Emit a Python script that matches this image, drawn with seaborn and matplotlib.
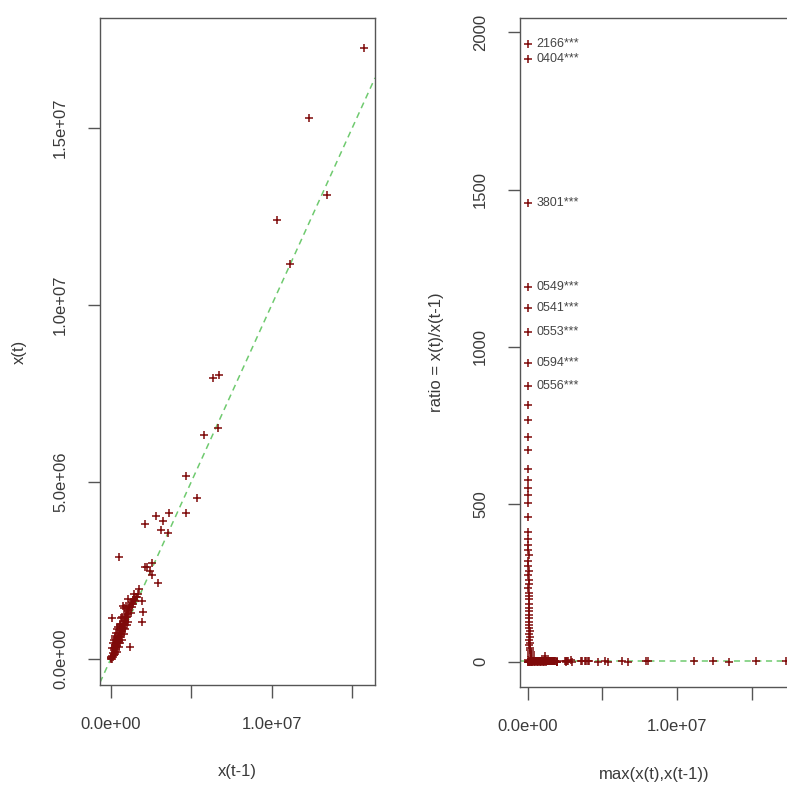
import numpy as np
import pandas as pd
import matplotlib
matplotlib.use("Agg")
import matplotlib.pyplot as plt
import seaborn as sns

# ---------------- data (values in millions) ----------------
left_x_m = [15.74, 12.33, 13.45, 10.31, 11.13, 6.35, 6.70, 6.68, 5.79, 4.68, 5.38, 4.68,
            2.81, 3.62, 3.27, 2.13, 3.12, 3.56, 0.50, 2.24, 2.55, 2.13, 2.43, 2.55, 2.96,
            1.78, 1.40, 1.08, 1.93, 0.76, 1.99, 1.93, 0.06, 1.20,
            0.05, 0.08, 0.12, 0.15, 0.18, 0.20, 0.22, 0.25, 0.28, 0.30, 0.32, 0.35, 0.38,
            0.40, 0.42, 0.45, 0.48, 0.50, 0.52, 0.55, 0.58, 0.60, 0.62, 0.65, 0.68, 0.70,
            0.72, 0.75, 0.78, 0.80, 0.82, 0.85, 0.88, 0.90, 0.92, 0.95, 0.98, 1.00, 1.02,
            1.05, 1.08, 1.10, 1.15, 1.20, 1.25, 1.30, 1.35, 1.40, 1.45, 1.50, 1.55, 0.10,
            0.15, 0.25, 0.35, 0.45, 0.55, 0.65, 0.20, 0.30, 0.40, 0.60, 0.70, 0.85, 0.95,
            0.50, 0.70, 0.90, 1.10, 0.40, 0.02, 0.01, 0.10, 0.30, 0.60, 0.80, 1.00, 1.25,
            1.65, 1.70, 1.45]
left_y_m = [17.25, 15.28, 13.09, 12.39, 11.15, 7.92, 8.03, 6.52, 6.32, 5.17, 4.54, 4.12,
            4.05, 4.13, 3.90, 3.82, 3.65, 3.57, 2.87, 2.61, 2.70, 2.59, 2.48, 2.36, 2.14,
            1.97, 1.68, 1.70, 1.65, 1.50, 1.33, 1.05, 1.17, 0.35,
            0.02, 0.10, 0.05, 0.18, 0.12, 0.25, 0.30, 0.20, 0.35, 0.40, 0.28, 0.45, 0.38,
            0.50, 0.55, 0.48, 0.60, 0.52, 0.65, 0.70, 0.62, 0.75, 0.68, 0.80, 0.85, 0.78,
            0.90, 0.95, 0.88, 1.00, 1.05, 0.98, 1.10, 1.15, 1.08, 1.20, 1.25, 1.18, 1.30,
            1.35, 1.28, 1.40, 1.45, 1.50, 1.55, 1.48, 1.60, 1.55, 1.70, 1.65, 1.75, 0.30,
            0.45, 0.60, 0.75, 0.90, 1.00, 1.15, 0.55, 0.65, 0.85, 0.95, 1.20, 1.45, 1.50,
            0.35, 0.55, 0.85, 1.05, 0.20, 0.00, 0.05, 0.00, 0.15, 0.45, 0.70, 0.95, 1.30,
            1.75, 1.85, 1.85]

# spike of very large ratios near max(x) ~ 0 (max in millions, ratio)
spike_max_m = [0.02, 0.02, 0.02, 0.03, 0.02, 0.03, 0.02, 0.02,
               0.03, 0.02, 0.04, 0.03, 0.02, 0.03, 0.04, 0.02, 0.03, 0.05, 0.04, 0.03,
               0.05, 0.04, 0.06, 0.03, 0.05, 0.07, 0.04, 0.06, 0.08, 0.05, 0.07, 0.09,
               0.06, 0.08, 0.10, 0.07, 0.09, 0.11, 0.08, 0.12, 0.10, 0.13, 0.09, 0.14,
               0.11, 0.15, 0.12, 0.16, 0.18, 0.20, 0.22, 0.25]
spike_ratio = [1962, 1914, 1458, 1191, 1123, 1048, 950, 876,
               815, 768, 715, 672, 612, 577, 551, 529, 504, 461, 413, 390,
               370, 355, 340, 320, 305, 290, 275, 260, 248, 235, 220, 210,
               198, 185, 172, 160, 150, 140, 128, 118, 108, 98, 88, 78,
               70, 60, 52, 45, 38, 30, 24, 18]
spike_labels = ["2166***", "0404***", "3801***", "0549***", "0541***",
                "0553***", "0594***", "0556***"]

x_ticks = [0, 5e6, 1e7, 1.5e7]
x_tick_labels = ["0.0e+00", "", "1.0e+07", ""]
y_ticks_left = [0, 5e6, 1e7, 1.5e7]
y_tick_labels_left = ["0.0e+00", "5.0e+06", "1.0e+07", "1.5e+07"]
y_ticks_right = [0, 500, 1000, 1500, 2000]

# ---------------- derived tables ----------------
left = pd.DataFrame({"xt1": np.array(left_x_m) * 1e6, "xt": np.array(left_y_m) * 1e6})
foot = pd.DataFrame({"mx": np.maximum(left["xt"], left["xt1"]),
                     "ratio": left["xt"] / left["xt1"]})
spike = pd.DataFrame({"mx": np.array(spike_max_m) * 1e6, "ratio": spike_ratio})
right = pd.concat([foot, spike], ignore_index=True)

# ---------------- style ----------------
sns.set_theme(style="white")
plt.rcParams["font.family"] = ["Liberation Sans", "DejaVu Sans"]
txt = "#3a3a3a"
spine_c = "#555555"
pt_c = "#7f0a0a"
line_c = "#6fca6f"

W = H = 787
fig = plt.figure(figsize=(7.87, 7.87), dpi=100)
axL = fig.add_axes([100 / W, (W - 685) / H, 275 / W, 667 / H])
axR = fig.add_axes([520 / W, (W - 687) / H, 280 / W, 669 / H])

for ax in (axL, axR):
    for s in ax.spines.values():
        s.set_color(spine_c)
        s.set_linewidth(1.0)
    ax.tick_params(axis="both", direction="out", length=9, width=1.0,
                   color=spine_c, labelcolor=txt, labelsize=12, pad=14,
                   left=True, bottom=True)

# Left panel
sns.scatterplot(data=left, x="xt1", y="xt", ax=axL, marker="+", color=pt_c,
                s=40, linewidth=1.1, legend=False, zorder=3)
axL.axline((0, 0), slope=1, color=line_c, lw=1.1, ls=(0, (4, 3)), zorder=2)
axL.set_xlim(-0.66e6, 16.4e6)
axL.set_ylim(-0.73e6, 18.09e6)
axL.set_xticks(x_ticks)
axL.set_xticklabels(x_tick_labels)
axL.set_yticks(y_ticks_left)
axL.set_yticklabels(y_tick_labels_left, rotation=90, va="center")
axL.set_xlabel("x(t-1)", fontsize=12, color=txt)
axL.set_ylabel("x(t)", fontsize=12, color=txt)
axL.xaxis.set_label_coords(0.5, -0.118)
axL.yaxis.set_label_coords(-0.265, 0.5)

# Right panel
sns.scatterplot(data=right, x="mx", y="ratio", ax=axR, marker="+", color=pt_c,
                s=40, linewidth=1.1, legend=False, zorder=3)
axR.axhline(1, color=line_c, lw=1.1, ls=(0, (4, 3)), zorder=2)
for xv, yv, lab in zip(spike["mx"][:len(spike_labels)], spike["ratio"][:len(spike_labels)], spike_labels):
    axR.annotate(lab, (xv, yv), xytext=(6, 0), textcoords="offset points",
                 ha="left", va="center", fontsize=9, color="#444444")
axR.set_xlim(-0.51e6, 18.2e6)
axR.set_ylim(-80, 2045)
axR.set_xticks(x_ticks)
axR.set_xticklabels(x_tick_labels)
axR.set_yticks(y_ticks_right)
axR.set_yticklabels([str(v) for v in y_ticks_right], rotation=90, va="center")
axR.set_xlabel("max(x(t),x(t-1))", fontsize=12, color=txt)
axR.set_ylabel("ratio = x(t)/x(t-1)", fontsize=12, color=txt)
axR.xaxis.set_label_coords(0.48, -0.12)
axR.yaxis.set_label_coords(-0.27, 0.5)

fig.savefig("out.png", dpi=100)
